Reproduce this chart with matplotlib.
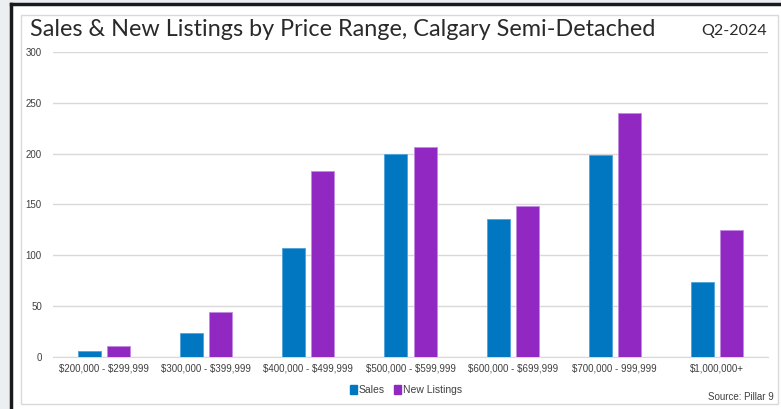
import matplotlib.pyplot as plt
import numpy as np
from matplotlib.patches import Rectangle, Patch

W, H = 781, 409

categories = [
    "$200,000 - $299,999",
    "$300,000 - $399,999",
    "$400,000 - $499,999",
    "$500,000 - $599,999",
    "$600,000 - $699,999",
    "$700,000 - 999,999",
    "$1,000,000+",
]
sales = [6, 24, 107, 200, 136, 199, 74]
new_listings = [11, 44, 183, 207, 149, 240, 125]

SALES_COLOR = "#0077c0"
NL_COLOR = "#9128c1"
TEXT_GRAY = "#404040"


def px(x, y, w, h):
    # pixel box (top-left origin) -> figure fraction
    return [x / W, 1 - (y + h) / H, w / W, h / H]


fig = plt.figure(figsize=(W / 100, H / 100), dpi=100)
fig.patch.set_facecolor("#eceff2")

# screenshot frame
fig.patches.append(Rectangle((12 / W, 0), 1, 1 - 5 / H, transform=fig.transFigure,
                             facecolor="white", edgecolor="none", zorder=0))
fig.add_artist(plt.Line2D([11 / W, 11 / W], [0, 1 - 4 / H], transform=fig.transFigure,
                          color="#1a1a1a", lw=2.5))
fig.add_artist(plt.Line2D([11 / W, 1], [1 - 4 / H, 1 - 4 / H], transform=fig.transFigure,
                          color="#1a1a1a", lw=2.5))
# chart box
fig.patches.append(Rectangle((21 / W, 1 - 404 / H), 757 / W, 389 / H, transform=fig.transFigure,
                             facecolor="white", edgecolor="#d9d9d9", lw=1.0, zorder=1))

ax = fig.add_axes(px(53, 52, 715, 305))
ax.set_zorder(2)
ax.patch.set_alpha(0)

x = np.arange(len(categories))
bw = 0.225
off = 0.143
ax.bar(x - off, sales, bw, color=SALES_COLOR, edgecolor="#4fa3d9", lw=0.6, zorder=3)
ax.bar(x + off, new_listings, bw, color=NL_COLOR, edgecolor="#c08ae0", lw=0.6, zorder=3)

ax.set_xlim(-0.5, len(categories) - 0.5)
ax.set_ylim(0, 300)
ax.set_yticks(range(0, 301, 50))
ax.grid(axis="y", color="#d9d9d9", lw=1.0, zorder=0)
ax.set_axisbelow(True)
for s in ["top", "right", "left"]:
    ax.spines[s].set_visible(False)
ax.spines["bottom"].set_color("#d9d9d9")
ax.tick_params(axis="both", length=0, labelsize=7, colors=TEXT_GRAY)
ax.tick_params(axis="y", pad=8)
ax.tick_params(axis="x", pad=5)
ax.set_xticks(x)
ax.set_xticklabels([c.replace("$", r"\$") for c in categories], fontfamily="Liberation Sans")
for lab in ax.get_yticklabels():
    lab.set_fontfamily("Liberation Sans")

fig.text(30 / W, 1 - 30 / H, "Sales & New Listings by Price Range, Calgary Semi-Detached",
         fontsize=16.8, color="#2a2a2a", fontfamily="Lato",
         va="center", ha="left")
fig.text(767 / W, 1 - 31 / H, "Q2-2024", fontsize=11.5, color="#2a2a2a",
         fontfamily="Lato", va="center", ha="right")

handles = [Patch(color=SALES_COLOR, label="Sales"), Patch(color=NL_COLOR, label="New Listings")]
fig.legend(handles=handles, loc="center", bbox_to_anchor=(406 / W, 1 - 390 / H), ncol=2,
           frameon=False, prop={"family": "Liberation Sans", "size": 7.5},
           handlelength=0.7, handleheight=0.9, handletextpad=0.15, columnspacing=0.9,
           labelcolor=TEXT_GRAY)

fig.text(774 / W, 1 - 397 / H, "Source: Pillar 9", fontsize=7, color=TEXT_GRAY,
         fontfamily="Liberation Sans", ha="right", va="center")

fig.savefig("out.png", dpi=100)
